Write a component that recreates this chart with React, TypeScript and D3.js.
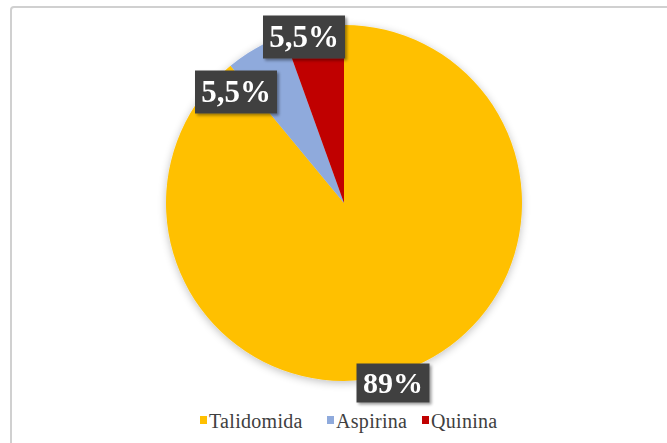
import React from "react";
import * as d3 from "d3";

const categories = ["Talidomida", "Aspirina", "Quinina"];
const values = [89, 5.5, 5.5];
const labels = ["89%", "5,5%", "5,5%"];
const colors = ["#FFC000", "#8FAADC", "#C00000"];

const W = 667, H = 443;
const cx = 344, cy = 203, R = 178;
const SERIF = "Liberation Serif";

const labelBoxes = [
  { x: 393, y: 383, w: 73, h: 39 },
  { x: 236, y: 92, w: 82, h: 43 },
  { x: 304, y: 37, w: 82, h: 43 },
];

export default function App() {
  const pie = d3.pie<number>().sort(null).value((d) => d)(values);
  const arc = d3.arc<d3.PieArcDatum<number>>().innerRadius(0).outerRadius(R);
  const legendX = [199, 326, 421];
  return (
    <svg width={W} height={H} style={{ position: "absolute", left: 0, top: 0 }}>
      <defs>
        <filter id="sh" x="-20%" y="-20%" width="140%" height="140%">
          <feGaussianBlur in="SourceAlpha" stdDeviation="4" />
          <feOffset dx="0" dy="2" result="b" />
          <feComponentTransfer><feFuncA type="linear" slope="0.25" /></feComponentTransfer>
          <feMerge><feMergeNode /><feMergeNode in="SourceGraphic" /></feMerge>
        </filter>
        <filter id="bs" x="-20%" y="-20%" width="150%" height="150%">
          <feGaussianBlur in="SourceAlpha" stdDeviation="1.5" />
          <feOffset dx="2" dy="2" />
          <feComponentTransfer><feFuncA type="linear" slope="0.4" /></feComponentTransfer>
          <feMerge><feMergeNode /><feMergeNode in="SourceGraphic" /></feMerge>
        </filter>
      </defs>
      <rect x={0} y={0} width={W} height={H} fill="#fff" />
      <rect x={11} y={7} width={W + 20} height={H + 20} rx={3} fill="#fff" stroke="#d0d0d0" strokeWidth={2} />
      <g transform={`translate(${cx},${cy})`} filter="url(#sh)">
        {pie.map((p, i) => (
          <path key={i} d={arc(p) || ""} fill={colors[i]} />
        ))}
      </g>
      {labelBoxes.map((b, i) => (
        <g key={i} filter="url(#bs)">
          <rect x={b.x - b.w / 2} y={b.y - b.h / 2} width={b.w} height={b.h} fill="#404040" />
          <text x={b.x} y={b.y + 10} textAnchor="middle" fill="#fff" fontFamily={SERIF} fontWeight="bold" fontSize={i === 0 ? 30 : 31}>
            {labels[i]}
          </text>
        </g>
      ))}
      {categories.map((c, i) => (
        <g key={c}>
          <rect x={legendX[i] + 1} y={416} width={7} height={8} fill={colors[i]} />
          <text x={legendX[i] + 10} y={428} fontFamily={SERIF} fontSize={20} letterSpacing={0.3} fill="#404040">
            {c}
          </text>
        </g>
      ))}
    </svg>
  );
}
